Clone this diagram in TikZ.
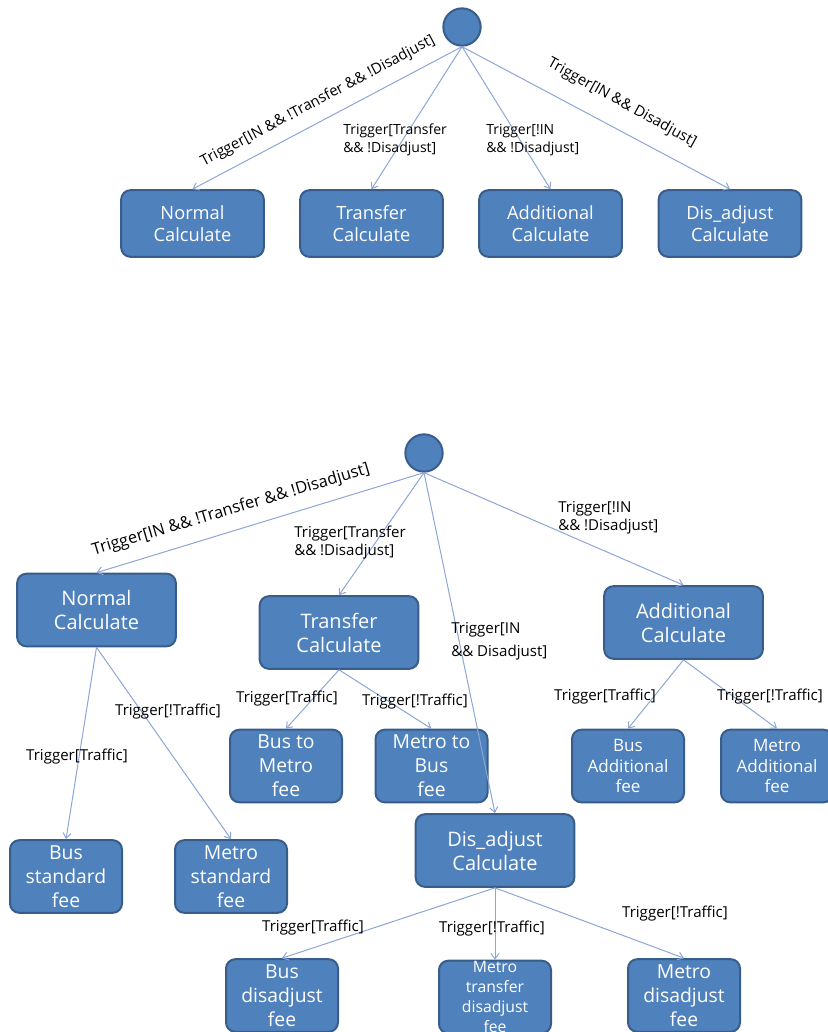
\documentclass[tikz,border=0pt]{standalone}
\usepackage{fontspec}
\setmainfont{Open Sans}
\usepackage{tikz}
\usetikzlibrary{arrows.meta}

\definecolor{boxfill}{RGB}{79,129,189}
\definecolor{boxline}{RGB}{56,93,138}
\definecolor{arrline}{RGB}{141,166,214}

\begin{document}
\begin{tikzpicture}[x=0.75pt,y=0.75pt,yscale=-1,xscale=1,
  calc/.style={draw=boxline,fill=boxfill,line width=1.5pt,rounded corners=7pt,text=white,align=center,inner sep=0pt},
  topcalc/.style={calc,minimum width=107pt,minimum height=50pt,font=\fontsize{13.7}{17}\selectfont},
  botcalc/.style={calc,minimum width=119pt,minimum height=54.5pt,font=\fontsize{15}{18}\selectfont},
  fee/.style={calc,minimum width=84pt,minimum height=54.5pt,font=\fontsize{14.5}{18}\selectfont},
  state/.style={circle,draw=boxline,fill=boxfill,line width=1.5pt,minimum size=28pt,inner sep=0pt},
  trig/.style={inner sep=0.75pt,align=left,font=\fontsize{10.5}{13.5}\selectfont},
  trigb/.style={trig,font=\fontsize{11.3}{13.5}\selectfont},
  arr/.style={draw=arrline,line width=0.75pt,-{Straight Barb[length=4pt,width=6pt]}}
]
\useasboundingbox (0,0) rectangle (828,1032);

% first chart
\node[state] (top) at (462,27) {};
\node[topcalc] (tn) at (192.5,223.5) {Normal\\Calculate};
\node[topcalc] (tt) at (371.5,223.5) {Transfer\\Calculate};
\node[topcalc] (ta) at (550.5,223.5) {Additional\\Calculate};
\node[topcalc] (td) at (730,223.5) {Dis\_adjust\\Calculate};

\draw[arr] (top.south) -- (tn.north);
\draw[arr] (top.south) -- (tt.north);
\draw[arr] (top.south) -- (ta.north);
\draw[arr] (top.south) -- (td.north);

% Text Node
\node[trig,rotate=28,font=\fontsize{11.2}{13.5}\selectfont] (tlabn) at (318,101) {Trigger[IN \&\& !Transfer \&\& !Disadjust]};
\node[trig,anchor=north west] (tlabt) at (342,123) {Trigger[Transfer\\\&\& !Disadjust]};
\node[trig,anchor=north west] (tlaba) at (485,123) {Trigger[!IN\\\&\& !Disadjust]};
\node[trig,rotate=-29,font=\fontsize{11.2}{13.5}\selectfont] (tlabd) at (622,103) {Trigger[IN \&\& Disadjust]};

% second chart
\node[state] (root) at (424,453) {};
\node[botcalc] (nc) at (96.5,610) {Normal\\Calculate};
\node[botcalc] (tc) at (339,632.5) {Transfer\\Calculate};
\node[botcalc] (ac) at (683.5,622.5) {Additional\\Calculate};
\node[botcalc] (dc) at (495,850.5) {Dis\_adjust\\Calculate};

\node[fee] (bsf) at (66,876.5) {Bus\\standard\\fee};
\node[fee] (msf) at (231,876.5) {Metro\\standard\\fee};
\node[fee] (bmf) at (286,766) {Bus to\\Metro\\fee};
\node[fee] (mbf) at (431.5,766) {Metro to\\Bus\\fee};
\node[fee,font=\fontsize{12.8}{15.5}\selectfont] (baf) at (628,766) {Bus\\Additional\\fee};
\node[fee,font=\fontsize{12.8}{15.5}\selectfont] (maf) at (777,766) {Metro\\Additional\\fee};
\node[fee] (bdf) at (282,995.5) {Bus\\disadjust\\fee};
\node[fee,font=\fontsize{11.8}{15}\selectfont] (mtf) at (495,997) {Metro\\transfer\\disadjust\\fee};
\node[fee] (mdf) at (684,995.5) {Metro\\disadjust\\fee};

\draw[arr] (root.south) -- (nc.north);
\draw[arr] (root.south) -- (tc.north);
\draw[arr] (root.south) -- (ac.north);
\draw[arr] (root.south) -- (dc.north);
\draw[arr] (nc.south) -- (bsf.north);
\draw[arr] (nc.south) -- (msf.north);
\draw[arr] (tc.south) -- (bmf.north);
\draw[arr] (tc.south) -- (mbf.north);
\draw[arr] (ac.south) -- (baf.north);
\draw[arr] (ac.south) -- (maf.north);
\draw[arr] (dc.south) -- (bdf.north);
\draw[arr] (dc.south) -- (mtf.north);
\draw[arr] (dc.south) -- (mdf.north);

% Text Node
\node[trigb,rotate=16.5,font=\fontsize{12.3}{13.5}\selectfont] (labn) at (231,510) {Trigger[IN \&\& !Transfer \&\& !Disadjust]};
\node[trigb,anchor=north west] (labt) at (293,525) {Trigger[Transfer\\\&\& !Disadjust]};
\node[trigb,anchor=north west,font=\fontsize{11.3}{17.5}\selectfont] (labd) at (450,621) {Trigger[IN\\\&\& Disadjust]};
\node[trigb,anchor=north west] (laba) at (557,500) {Trigger[!IN\\\&\& !Disadjust]};
\node[trigb] (labms) at (168,712) {Trigger[!Traffic]};
\node[trigb] (labbs) at (77,757) {Trigger[Traffic]};
\node[trigb] (labbm) at (287,699) {Trigger[Traffic]};
\node[trigb] (labmb) at (415,702) {Trigger[!Traffic]};
\node[trigb] (labba) at (605,697) {Trigger[Traffic]};
\node[trigb] (labma) at (770,697) {Trigger[!Traffic]};
\node[trigb] (labbd) at (313,928) {Trigger[Traffic]};
\node[trigb] (labmt) at (492,929) {Trigger[!Traffic]};
\node[trigb] (labmd) at (675,914) {Trigger[!Traffic]};

\end{tikzpicture}
\end{document}
